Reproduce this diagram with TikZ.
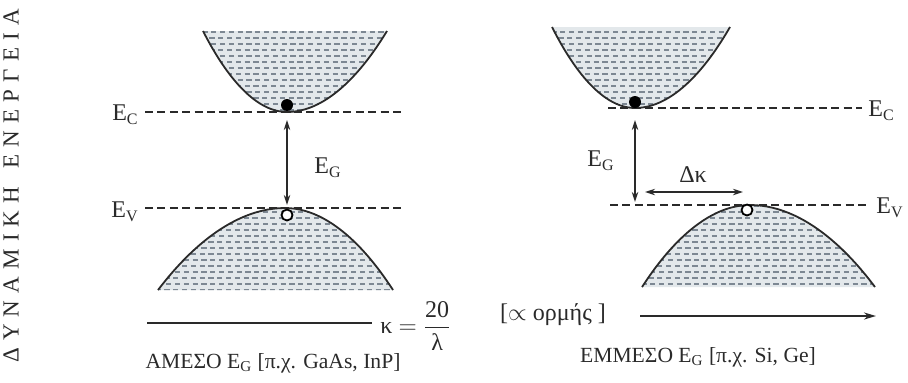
\documentclass[tikz,border=0pt]{standalone}
\usepackage{fontspec}
\setmainfont{Liberation Serif}
\usepackage{tikz}
\usetikzlibrary{arrows.meta}
\definecolor{bandBg}{HTML}{E3E8EB}
\definecolor{bandDash}{HTML}{7D8893}
\definecolor{inkK}{HTML}{2A2A2A}

\tikzset{
  level/.style={dashed, dash pattern=on 4pt off 2.2pt, line width=1.3pt, draw=inkK},
  gaparrow/.style={{Stealth[length=5pt,width=3.2pt]}-{Stealth[length=5pt,width=3.2pt]}, line width=0.8pt, draw=inkK},
  bandedge/.style={line width=0.9pt, draw=inkK},
  elec/.style={circle, fill=black, inner sep=0pt, minimum size=6pt},
  hole/.style={circle, draw=black, fill=white, line width=0.9pt, inner sep=0pt, minimum size=5.5pt},
  lbl/.style={text=inkK, inner sep=1pt},
  lvllbl/.style={lbl, font=\fontsize{12}{14}\selectfont}
}

\begin{document}
\begin{tikzpicture}[x=0.5pt, y=-0.5pt, font=\fontsize{10.8}{13}\selectfont]
  \useasboundingbox (0,0) rectangle (908,382);
  % bands: start x/y, bend x/y, end x/y
  \foreach \xa/\ya/\xb/\yb/\xc/\yc in {%
    203/31/287/112/387/31,%
    158/290/285/208/393/290,%
    552/27/635/108/730/27,%
    642/287/750/205/875/287}{%
      \fill[bandBg] (\xa,\ya) parabola bend (\xb,\yb) (\xc,\yc) -- cycle;
      \begin{scope}
        \clip (\xa,\ya) parabola bend (\xb,\yb) (\xc,\yc) -- cycle;
        \foreach \yy [count=\r] in {20,26,...,296}{
          \pgfmathsetmacro{\ph}{mod(\r,2)*3.5}
          \draw[bandDash, line width=0.55pt, dash pattern=on 2.6pt off 1.8pt, dash phase=\ph pt]
            (\xa-20,\yy) -- (\xc+20,\yy);
        }
      \end{scope}
      \draw[bandedge] (\xa,\ya) parabola bend (\xb,\yb) (\xc,\yc);
  }

  % vertical axis title
  \node[lbl, rotate=90, font=\fontsize{11.5}{13}\selectfont] (axT) at (11,186)
    {Δ\hspace{3.6pt}Υ\hspace{3.6pt}Ν\hspace{3.6pt}Α\hspace{3.6pt}Μ\hspace{3.6pt}Ι\hspace{3.6pt}Κ\hspace{3.6pt}Η\hspace{9pt}Ε\hspace{3.6pt}Ν\hspace{3.6pt}Ε\hspace{3.6pt}Ρ\hspace{3.6pt}Γ\hspace{3.6pt}Ε\hspace{3.6pt}Ι\hspace{3.6pt}Α};

  % --- direct gap (left) ---
  \coordinate (ecLa) at (145,112);  \coordinate (ecLb) at (405,112);
  \coordinate (evLa) at (145,208);  \coordinate (evLb) at (405,208);
  \draw[level] (ecLa) -- (ecLb);
  \draw[level] (evLa) -- (evLb);
  \node[lvllbl, anchor=east] (ecLlab) at (141,115) {E\textsubscript{C}};
  \node[lvllbl, anchor=east] (evLlab) at (141,212) {E\textsubscript{V}};
  \node[elec] (eL) at (287,105) {};
  \node[hole] (hL) at (287,215) {};
  \coordinate (gLtop) at (287,120); \coordinate (gLbot) at (287,205);
  \draw[gaparrow] (gLtop) -- (gLbot);
  \node[lvllbl] (egL) at (328,168) {E\textsubscript{G}};

  % --- indirect gap (right) ---
  \coordinate (ecRa) at (608,108);  \coordinate (ecRb) at (862,108);
  \coordinate (evRa) at (610,205);  \coordinate (evRb) at (870,205);
  \draw[level] (ecRa) -- (ecRb);
  \draw[level] (evRa) -- (evRb);
  \node[lvllbl, anchor=west] (ecRlab) at (866,111) {E\textsubscript{C}};
  \node[lvllbl, anchor=west] (evRlab) at (874,208) {E\textsubscript{V}};
  \node[elec] (eR) at (635,102) {};
  \node[hole] (hR) at (747,210) {};
  \coordinate (gRtop) at (635,120); \coordinate (gRbot) at (635,202);
  \draw[gaparrow] (gRtop) -- (gRbot);
  \node[lvllbl] (egR) at (601,161) {E\textsubscript{G}};
  \coordinate (dkA) at (645,192); \coordinate (dkB) at (743,192);
  \draw[gaparrow] (dkA) -- (dkB);
  \node[lvllbl] (dkLab) at (693,175) {Δκ};

  % --- momentum axis ---
  \coordinate (axLa) at (147,323); \coordinate (axLb) at (372,323);
  \draw[line width=1.1pt, draw=inkK] (axLa) -- (axLb);
  \node[lvllbl, anchor=west] (kLab) at (378,326)
    {κ $=$ $\displaystyle\frac{\mbox{20}}{\mbox{λ}}$};
  \node[lvllbl] (pLab) at (553,315) {[$\propto$ ορμής ]};
  \coordinate (axRa) at (640,316); \coordinate (axRb) at (876,316);
  \draw[line width=1.1pt, draw=inkK, -{Stealth[length=6pt,width=3.5pt]}] (axRa) -- (axRb);

  % captions
  \node[lbl] (capL) at (273,363) {ΑΜΕΣΟ E\textsubscript{G} [π.χ. GaAs, InP]};
  \node[lbl] (capR) at (698,357) {ΕΜΜΕΣΟ E\textsubscript{G} [π.χ. Si, Ge]};
\end{tikzpicture}
\end{document}
